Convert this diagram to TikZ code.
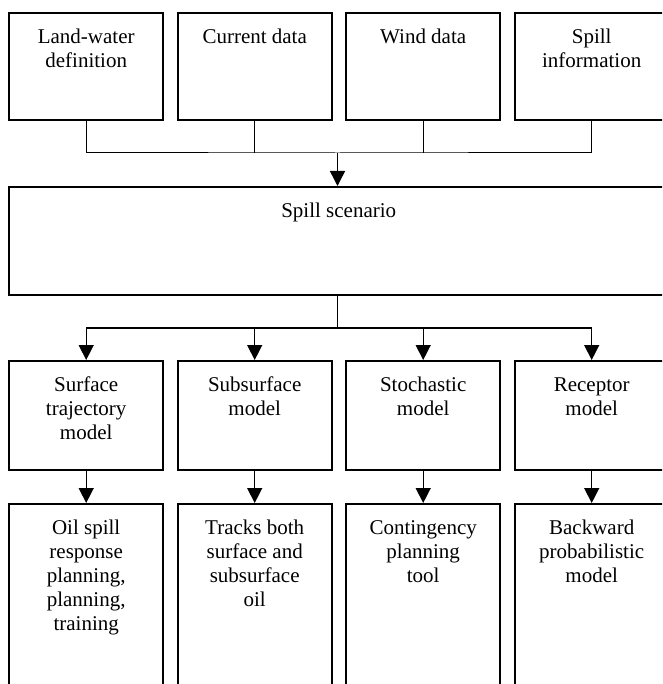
\documentclass[tikz,border=0pt]{standalone}
\usepackage{fontspec}
\setmainfont{Liberation Serif}
\usetikzlibrary{arrows.meta}

\newcommand{\boxbody}[3]{\parbox[c][#2pt][t]{#1pt}{\centering\rule{0pt}{30.5pt}#3}}

\begin{document}
\begin{tikzpicture}[x=1pt,y=-1pt,
  box/.style={draw,line width=2.4pt,inner sep=0pt,anchor=north west,
    font=\fontsize{21}{24}\selectfont},
  link/.style={line width=1pt},
  arr/.style={line width=1.4pt,-{Triangle[width=15pt,length=15pt]}}]
\useasboundingbox (0,0) rectangle (662,684);
\clip (0,0) rectangle (662,684);

% inputs
\node[box] (lw) at (8,12)     {\boxbody{154}{107}{Land-water\\definition}};
\node[box] (cd) at (176.5,12) {\boxbody{154}{107}{Current data}};
\node[box] (wd) at (345,12)   {\boxbody{154}{107}{Wind data}};
\node[box] (si) at (513.5,12) {\boxbody{154}{107}{Spill\\information}};

% scenario
\node[box] (scen) at (8,186) {\boxbody{659}{108}{Spill scenario}};

% models
\node[box] (stm) at (8,360)     {\boxbody{154}{109}{Surface\\trajectory\\model}};
\node[box] (ssm) at (176.5,360) {\boxbody{154}{109}{Subsurface\\model}};
\node[box] (sto) at (345,360)   {\boxbody{154}{109}{Stochastic\\model}};
\node[box] (rec) at (513.5,360) {\boxbody{154}{109}{Receptor\\model}};

% uses
\node[box] (osr) at (8,503)     {\boxbody{154}{220}{Oil spill\\response\\planning,\\planning,\\training}};
\node[box] (trk) at (176.5,503) {\boxbody{154}{220}{Tracks both\\surface and\\subsurface\\oil}};
\node[box] (cpt) at (345,503)   {\boxbody{154}{220}{Contingency\\planning\\tool}};
\node[box] (bpm) at (513.5,503) {\boxbody{154}{220}{Backward\\probabilistic\\model}};

% joins
\coordinate (jtop) at (337.5,153);
\coordinate (jmid) at (337.5,328);

\draw[link] (lw.south) |- (jtop) -| (si.south);
\draw[link] (cd.south) -- (cd.south |- jtop);
\draw[link] (wd.south) -- (wd.south |- jtop);
\draw[arr] (jtop) -- (jtop |- scen.north);

\draw[line width=1.4pt] (jmid |- scen.south) -- (jmid);
\draw[arr] (jmid) -| (stm.north);
\draw[arr] (jmid) -| (ssm.north);
\draw[arr] (jmid) -| (sto.north);
\draw[arr] (jmid) -| (rec.north);

\draw[arr] (stm.south) -- (osr.north);
\draw[arr] (ssm.south) -- (trk.north);
\draw[arr] (sto.south) -- (cpt.north);
\draw[arr] (rec.south) -- (bpm.north);
\end{tikzpicture}
\end{document}
